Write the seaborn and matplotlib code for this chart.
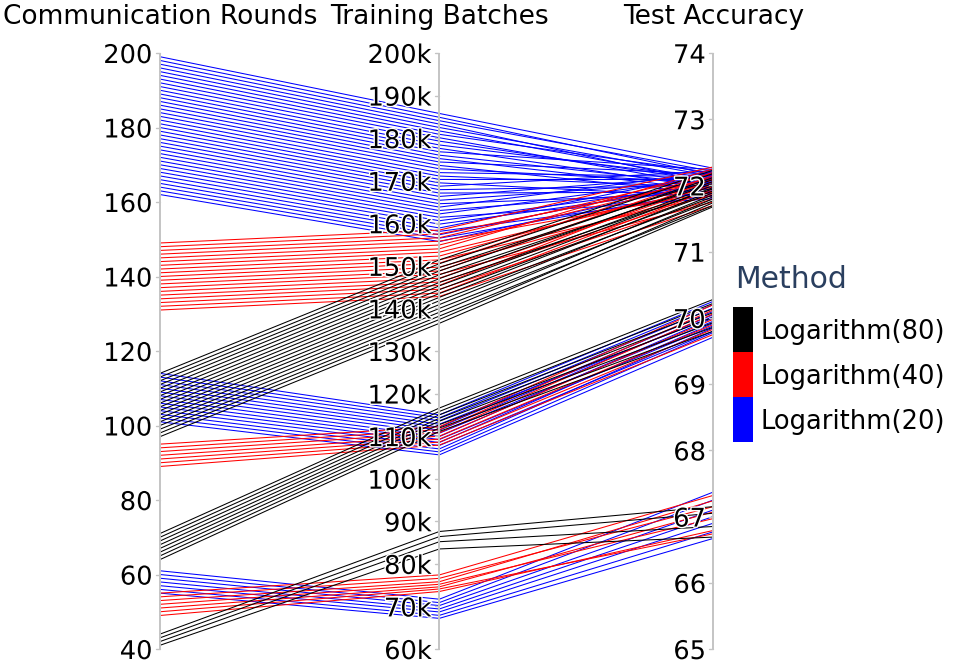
import numpy as np
import pandas as pd
import matplotlib
matplotlib.use("Agg")
import matplotlib.pyplot as plt
import matplotlib.patheffects as pe
from matplotlib.colors import ListedColormap, BoundaryNorm
from matplotlib.cm import ScalarMappable
import seaborn as sns

# ---------------- data ----------------
dimensions = ["Communication Rounds", "Training Batches", "Test Accuracy"]
methods = ["Logarithm(20)", "Logarithm(40)", "Logarithm(80)"]
method_colors = ["#0000ff", "#ff0000", "#000000"]

# Logarithm(20)
l20_rounds = [162, 163, 164, 165, 166, 167, 168, 169, 170, 171, 172, 173, 174, 175, 176, 177, 178, 179, 180,
              181, 182, 183, 184, 185, 186, 187, 188, 189, 190, 191, 192, 193, 194, 195, 196, 197, 198, 199,
              101, 102, 103, 104, 105, 106, 107, 108, 109, 110, 111, 112, 113, 114,
              55, 56, 57, 58, 59, 60, 61]
l20_batches = [155.7, 156.5, 157.3, 158.1, 158.9, 159.8, 160.6, 161.4, 162.2, 163.0, 163.8, 164.6, 165.4,
               166.3, 167.1, 167.9, 168.7, 169.5, 170.3, 171.1, 171.9, 172.8, 173.6, 174.4, 175.2, 176.0,
               176.8, 177.6, 178.4, 179.3, 180.1, 180.9, 181.7, 182.5, 183.3, 184.1, 184.9, 185.8,
               105.6, 106.3, 107.0, 107.8, 108.5, 109.2, 109.9, 110.7, 111.4, 112.1, 112.8, 113.6, 114.3, 115.0,
               67.2, 67.9, 68.7, 69.4, 70.2, 70.9, 71.7]
l20_acc = [72.05, 71.92, 72.10, 71.85, 72.18, 71.98, 72.02, 71.80, 72.12, 71.95, 72.20, 71.88, 72.07,
           72.15, 71.90, 72.00, 72.22, 71.83, 72.09, 71.97, 72.13, 72.04, 71.87, 72.17, 71.93, 72.01,
           72.24, 71.96, 72.11, 72.06, 71.99, 72.19, 72.08, 72.14, 72.03, 72.21, 72.16, 72.26,
           69.71, 69.78, 69.85, 69.80, 69.92, 69.88, 70.00, 69.95, 70.05, 70.10, 70.02, 70.15, 70.20, 70.25,
           66.67, 66.77, 66.90, 67.00, 67.10, 67.25, 67.37]

# Logarithm(40)
l40_rounds = [131, 132, 133, 134, 135, 136, 137, 138, 139, 140, 141, 142, 143, 144, 145, 146, 147, 148, 149,
              89, 90, 91, 92, 93, 94, 95,
              49, 50, 51, 52, 53, 54, 55]
l40_batches = [142.8, 143.6, 144.5, 145.4, 146.2, 147.1, 148.0, 148.8, 149.7, 150.6, 151.4, 152.3, 153.2,
               154.0, 154.9, 155.8, 156.6, 157.5, 158.4,
               107.9, 108.6, 109.3, 110.0, 110.8, 111.5, 112.2,
               73.5, 74.1, 74.6, 75.2, 75.8, 76.6, 77.4]
l40_acc = [71.70, 71.95, 71.80, 72.10, 71.88, 72.02, 71.75, 72.15, 71.92, 72.20, 71.85, 72.05, 71.98,
           72.25, 72.12, 71.90, 72.18, 72.08, 72.28,
           69.75, 69.83, 69.90, 69.98, 70.06, 70.12, 70.20,
           66.79, 66.74, 67.07, 66.97, 67.24, 67.15, 67.32]

# Logarithm(80)
l80_rounds = [97, 98, 99, 100, 101, 102, 103, 104, 105, 106, 107, 108, 109, 110, 111, 112, 113, 114,
              64, 65, 66, 67, 68, 69, 70, 71,
              41, 42, 43, 44]
l80_batches = [136.5, 137.4, 138.2, 139.1, 140.0, 140.9, 141.8, 142.6, 143.5, 144.4, 145.3, 146.1, 147.0,
               147.9, 148.8, 149.6, 150.5, 151.4,
               111.1, 111.9, 112.7, 113.5, 114.2, 115.0, 115.8, 116.6,
               83.5, 85.2, 86.4, 87.6]
l80_acc = [71.68, 71.74, 71.70, 71.80, 71.77, 71.86, 71.83, 71.92, 71.89, 71.97, 72.00, 71.95, 72.06,
           72.03, 72.12, 72.09, 72.18, 72.23,
           69.80, 69.86, 69.93, 70.01, 70.08, 70.14, 70.22, 70.28,
           66.69, 66.85, 67.05, 67.15]

rounds_ticks = [40, 60, 80, 100, 120, 140, 160, 180, 200]
rounds_ticklabels = ["40", "60", "80", "100", "120", "140", "160", "180", "200"]
batch_ticks = [60, 70, 80, 90, 100, 110, 120, 130, 140, 150, 160, 170, 180, 190, 200]
batch_ticklabels = ["60k", "70k", "80k", "90k", "100k", "110k", "120k", "130k", "140k",
                    "150k", "160k", "170k", "180k", "190k", "200k"]
acc_ticks = [65, 66, 67, 68, 69, 70, 71, 72, 73, 74]
acc_ticklabels = ["65", "66", "67", "68", "69", "70", "71", "72", "73", "74"]

# ---------------- build long table ----------------
ranges = [(40, 200), (60, 200), (65, 74)]
xpos = [0.0, 1.0096, 2.0]

rows = []
run = 0
for m, r_list, b_list, a_list in [
    ("Logarithm(20)", l20_rounds, l20_batches, l20_acc),
    ("Logarithm(40)", l40_rounds, l40_batches, l40_acc),
    ("Logarithm(80)", l80_rounds, l80_batches, l80_acc),
]:
    for r, b, a in zip(r_list, b_list, a_list):
        for k, v in enumerate([r, b, a]):
            lo, hi = ranges[k]
            rows.append({"run": run, "method": m, "pos": xpos[k], "val": (v - lo) / (hi - lo)})
        run += 1
df = pd.DataFrame(rows)

# ---------------- figure ----------------
sns.set_theme(style="white")
plt.rcParams['font.family'] = ['DejaVu Sans']

W, H = 964, 668
fig = plt.figure(figsize=(W / 100, H / 100), dpi=100)
ax_left, ax_right, ax_top, ax_bot = 160, 713.3, 53, 649
ax = fig.add_axes([ax_left / W, (H - ax_bot) / H, (ax_right - ax_left) / W, (ax_bot - ax_top) / H])

sns.lineplot(data=df, x="pos", y="val", hue="method", units="run", estimator=None,
             hue_order=methods, palette=method_colors, sort=False, linewidth=0.75,
             legend=False, ax=ax, clip_on=False)

ax.set_xlim(0, 2)
ax.set_ylim(0, 1)
ax.axis("off")

axis_gray = "#c4c4c4"
tick_sets = [(rounds_ticks, rounds_ticklabels), (batch_ticks, batch_ticklabels), (acc_ticks, acc_ticklabels)]
px_x = 2.0 / (ax_right - ax_left)
halo = [pe.withStroke(linewidth=2, foreground="white")]
for k, (ticks, labels) in enumerate(tick_sets):
    lo, hi = ranges[k]
    x = xpos[k]
    ax.plot([x, x], [0, 1], color=axis_gray, lw=1.4, zorder=5, clip_on=False, solid_capstyle="butt")
    for t, lab in zip(ticks, labels):
        yn = (t - lo) / (hi - lo)
        ax.plot([x - 4 * px_x, x], [yn, yn], color=axis_gray, lw=1.0, zorder=5, clip_on=False)
        ax.annotate(lab, xy=(x, yn), xytext=(-5.3, -7.2), textcoords="offset points",
                    ha="right", va="baseline", fontsize=18.5, color="black", zorder=6,
                    path_effects=halo, annotation_clip=False)
    fig.text((ax_left + (ax_right - ax_left) * x / 2) / W, 1 - 23.5 / H, dimensions[k],
             ha="center", va="baseline", fontsize=19, color="black")

# ---------------- colorbar legend ----------------
cax = fig.add_axes([733.3 / W, (H - 441.7) / H, 19.4 / W, 135 / H])
cmap = ListedColormap(method_colors)
norm = BoundaryNorm([0, 1, 2, 3], 3)
cb = fig.colorbar(ScalarMappable(norm=norm, cmap=cmap), cax=cax, ticks=[0.5, 1.5, 2.5])
cb.set_ticklabels(methods)
cb.outline.set_visible(False)
cax.minorticks_off()
cax.tick_params(which="both", length=0, pad=5.3, labelsize=18.5, labelcolor="black")
fig.text(735 / W, 1 - 288.3 / H, "Method", ha="left", va="baseline", fontsize=21.5, color="#2a3f5f")

fig.savefig("out.png", dpi=100, facecolor="white")
